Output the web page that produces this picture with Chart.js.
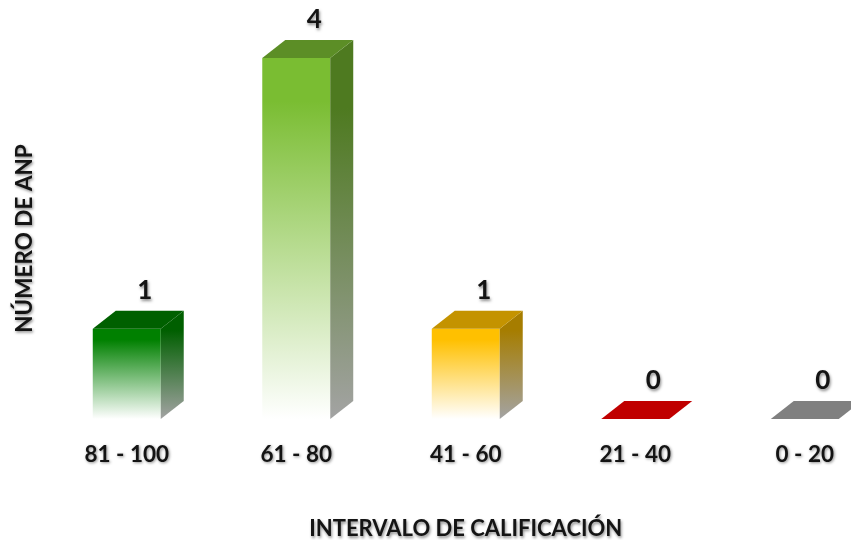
<!DOCTYPE html>
<html><head><meta charset="utf-8">
<style>html,body{margin:0;padding:0;background:#fff;width:851px;height:540px;overflow:hidden}canvas{display:block}</style>
<script src="https://cdn.jsdelivr.net/npm/chart.js@4"></script>
</head><body>
<canvas id="c" width="890" height="540" style="width:890px;height:540px"></canvas>
<script>
const categories = ["81 - 100","61 - 80","41 - 60","21 - 40","0 - 20"];
const values = [1,4,1,0,0];
const frontColors = ["#008000","#7ABD32","#FFC000","#C00000","#808080"];
const topColors = ["#006000","#5C8E26","#C49300","#C00000","#808080"];
const sideColors = ["#005F00","#4E7A20","#A67D00","#C00000","#808080"];
const depthX = 23, depthY = 18;
const FONT = "Lato, Carlito, sans-serif";
const TEXT = "#141414";

const textShadow = {
  id:"textShadow",
  beforeDraw(chart){const c=chart.ctx;c.shadowColor="rgba(0,0,0,0.45)";c.shadowBlur=3;c.shadowOffsetX=1;c.shadowOffsetY=1.5;},
  beforeDatasetsDraw(chart){const c=chart.ctx;c.shadowColor="transparent";c.shadowBlur=0;c.shadowOffsetX=0;c.shadowOffsetY=0;}
};
const box3d = {
  id:"box3d",
  afterDatasetsDraw(chart){
    const c=chart.ctx;
    chart.getDatasetMeta(0).data.forEach((b,i)=>{
      const l=b.x-b.width/2,r=b.x+b.width/2,t=b.y,bot=b.base;
      c.save();
      if(bot-t>0.5){
        const g=c.createLinearGradient(0,t-depthY,0,bot);
        g.addColorStop(0,sideColors[i]);g.addColorStop(0.18,sideColors[i]);g.addColorStop(1,"#A3A3A3");
        c.fillStyle=g;c.beginPath();c.moveTo(r,t);c.lineTo(r+depthX,t-depthY);c.lineTo(r+depthX,bot-depthY);c.lineTo(r,bot);c.closePath();c.fill();
      }
      c.fillStyle=topColors[i];c.beginPath();c.moveTo(l,t);c.lineTo(l+depthX,t-depthY);c.lineTo(r+depthX,t-depthY);c.lineTo(r,t);c.closePath();c.fill();
      c.shadowColor="rgba(0,0,0,0.45)";c.shadowBlur=3;c.shadowOffsetX=1;c.shadowOffsetY=1.5;
      c.fillStyle=TEXT;c.font="bold 26px "+FONT;c.textAlign="center";c.textBaseline="middle";
      c.fillText(String(values[i]),b.x+depthX-5,t-depthY-20);
      c.restore();
    });
  }
};
new Chart(document.getElementById("c"),{
  type:"bar",
  data:{labels:categories,datasets:[{
    data:values,
    barPercentage:0.401,categoryPercentage:1,borderWidth:0,
    backgroundColor(ctx){
      const ch=ctx.chart,i=ctx.dataIndex,col=frontColors[i];
      if(!ch.chartArea||!ch.scales.y)return col;
      const t=ch.scales.y.getPixelForValue(values[i]),b=ch.scales.y.getPixelForValue(0);
      if(b-t<1)return col;
      const g=ch.ctx.createLinearGradient(0,t,0,b);
      g.addColorStop(0,col);g.addColorStop(0.12,col);g.addColorStop(1,"#FFFFFF");
      return g;
    }
  }]},
  options:{
    responsive:false,animation:false,
    layout:{padding:{top:58,left:0,right:0.5,bottom:0}},
    plugins:{legend:{display:false},tooltip:{enabled:false}},
    scales:{
      x:{
        grid:{display:false,drawTicks:false},border:{display:false},
        ticks:{color:TEXT,font:{family:FONT,size:22.5,weight:"bold"},padding:22,maxRotation:0,autoSkip:false},
        title:{display:true,text:"INTERVALO DE CALIFICACIÓN",color:TEXT,font:{family:FONT,size:22,weight:"bold",lineHeight:1},padding:{top:0,bottom:0}},
        afterFit(s){s.height=121;}
      },
      y:{
        min:0,max:4,
        grid:{display:false,drawTicks:false},border:{display:false},
        ticks:{display:false},
        title:{display:true,text:"NÚMERO DE ANP",color:TEXT,font:{family:FONT,size:22.5,weight:"bold"},padding:{top:11,bottom:0}},
        afterFit(s){s.width=42;}
      }
    }
  },
  plugins:[textShadow,box3d]
});
</script>
</body></html>
